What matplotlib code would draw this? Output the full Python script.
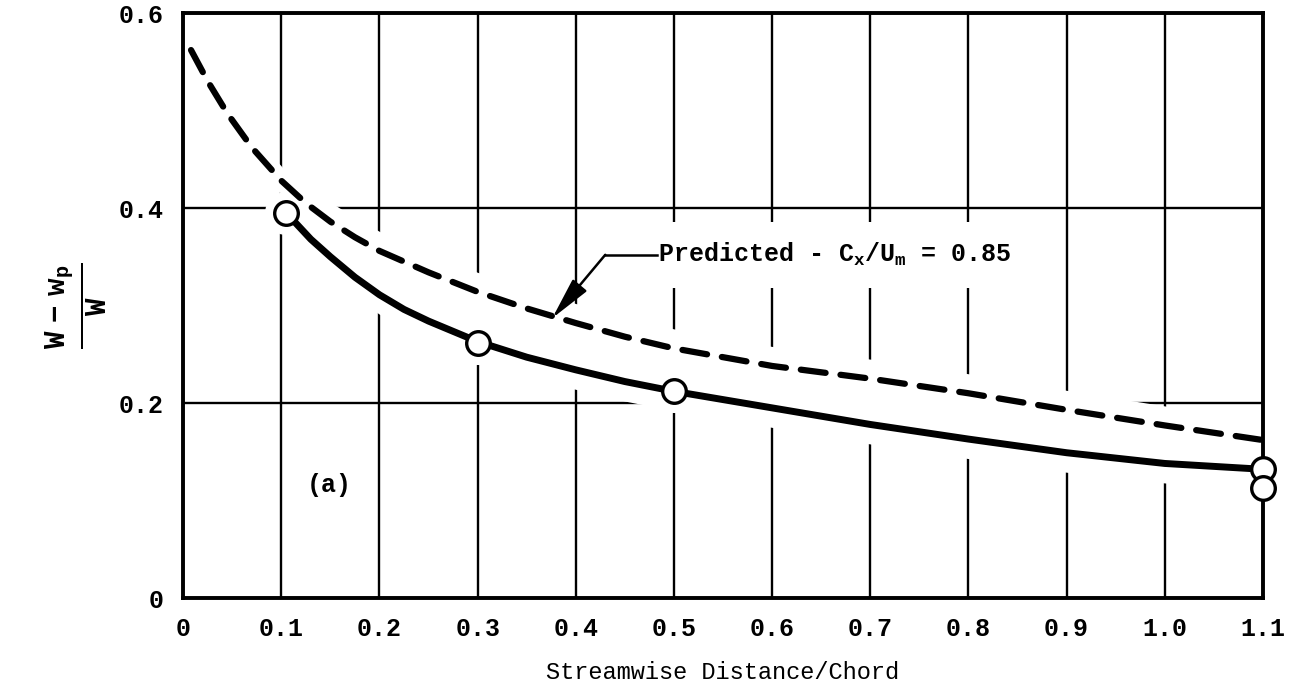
import numpy as np
import matplotlib
matplotlib.use("Agg")
import matplotlib.pyplot as plt

# measured wake deficit along the streamwise direction
meas_x = [0.105, 0.3, 0.5, 1.1, 1.1]
meas_y = [0.395, 0.262, 0.212, 0.132, 0.113]

# faired curve through the measurements
solid_x = [0.105, 0.13, 0.15, 0.175, 0.2, 0.225, 0.25, 0.3, 0.35, 0.4, 0.45, 0.5,
           0.6, 0.7, 0.8, 0.9, 1.0, 1.1]
solid_y = [0.395, 0.368, 0.350, 0.329, 0.311, 0.296, 0.284, 0.263, 0.247, 0.234, 0.222, 0.212,
           0.195, 0.178, 0.163, 0.149, 0.138, 0.132]

# predicted curve, Cx/Um = 0.85
pred_x = [0.008, 0.025, 0.045, 0.07, 0.1, 0.125, 0.15, 0.175, 0.2, 0.25, 0.3, 0.35, 0.4,
          0.45, 0.5, 0.6, 0.7, 0.8, 0.9, 1.0, 1.1]
pred_y = [0.562, 0.530, 0.497, 0.462, 0.428, 0.405, 0.386, 0.370, 0.356, 0.334, 0.314, 0.297, 0.282,
          0.268, 0.256, 0.238, 0.225, 0.210, 0.193, 0.177, 0.162]

xticks = [0, 0.1, 0.2, 0.3, 0.4, 0.5, 0.6, 0.7, 0.8, 0.9, 1.0, 1.1]
xtick_labels = ["0", "0.1", "0.2", "0.3", "0.4", "0.5", "0.6", "0.7", "0.8", "0.9", "1.0", "1.1"]
yticks = [0, 0.2, 0.4, 0.6]
ytick_labels = ["0", "0.2", "0.4", "0.6"]

plt.rcParams["font.family"] = "Liberation Mono"
plt.rcParams["font.weight"] = "bold"
plt.rcParams["mathtext.fontset"] = "custom"
plt.rcParams["mathtext.rm"] = "Liberation Mono:bold"
plt.rcParams["mathtext.it"] = "Liberation Mono:bold"
plt.rcParams["mathtext.bf"] = "Liberation Mono:bold"

fig = plt.figure(figsize=(12.9, 6.85), dpi=100)
ax = fig.add_axes([0.142, 0.127, 0.837, 0.854])
ax.set_xlim(0, 1.1)
ax.set_ylim(0, 0.6)

ax.set_xticks(xticks)
ax.set_xticklabels(xtick_labels, fontsize=18)
ax.set_yticks(yticks)
ax.set_yticklabels(ytick_labels, fontsize=18)
ax.tick_params(length=0, pad=14)

ax.set_axisbelow(True)
ax.grid(True, color="black", lw=1.7)
for s in ax.spines.values():
    s.set_linewidth(2.8)

# blank out the grid between the two curves
band_x = np.array(solid_x)
lower = np.array(solid_y) - 0.02
upper = np.interp(band_x, pred_x, pred_y) + 0.02
ax.fill_between(band_x, lower, upper, color="white", lw=0, zorder=1)
ax.plot(pred_x, pred_y, color="white", lw=14, solid_capstyle="round", zorder=1.1)
ax.plot(meas_x, meas_y, "o", ms=30, color="white", mec="white", zorder=1.2, clip_on=False)

ax.plot(pred_x, pred_y, color="black", lw=4.5, dashes=(4.0, 2.4),
        dash_capstyle="round", zorder=3)
ax.plot(solid_x, solid_y, color="black", lw=5, solid_capstyle="round",
        solid_joinstyle="round", zorder=3)
ax.plot(meas_x, meas_y, "o", ms=17, mfc="white", mec="black", mew=2.4,
        zorder=5, clip_on=False)

# leader and arrow for the predicted curve
ax.text(0.484, 0.352, r"Predicted - $\mathrm{C_x/U_m}$ = 0.85", fontsize=18,
        ha="left", va="center", zorder=4,
        bbox=dict(facecolor="white", edgecolor="none", pad=14))
ax.plot([0.483, 0.43], [0.352, 0.352], color="black", lw=1.8, zorder=6)
ax.annotate("", xy=(0.376, 0.287), xytext=(0.43, 0.352),
            arrowprops=dict(arrowstyle="-|>,head_length=1.3,head_width=0.28",
                            mutation_scale=20, color="black", lw=1.8,
                            shrinkA=0, shrinkB=0), zorder=6)

ax.text(0.149, 0.116, "(a)", fontsize=18, ha="center", va="center")

ax.set_xlabel("Streamwise Distance/Chord", fontsize=17, labelpad=14)
ax.set_ylabel(r"$\frac{\mathrm{W\ -\ w_p}}{\mathrm{W}}$", fontsize=30, labelpad=6)

fig.savefig("out.png", dpi=100)
